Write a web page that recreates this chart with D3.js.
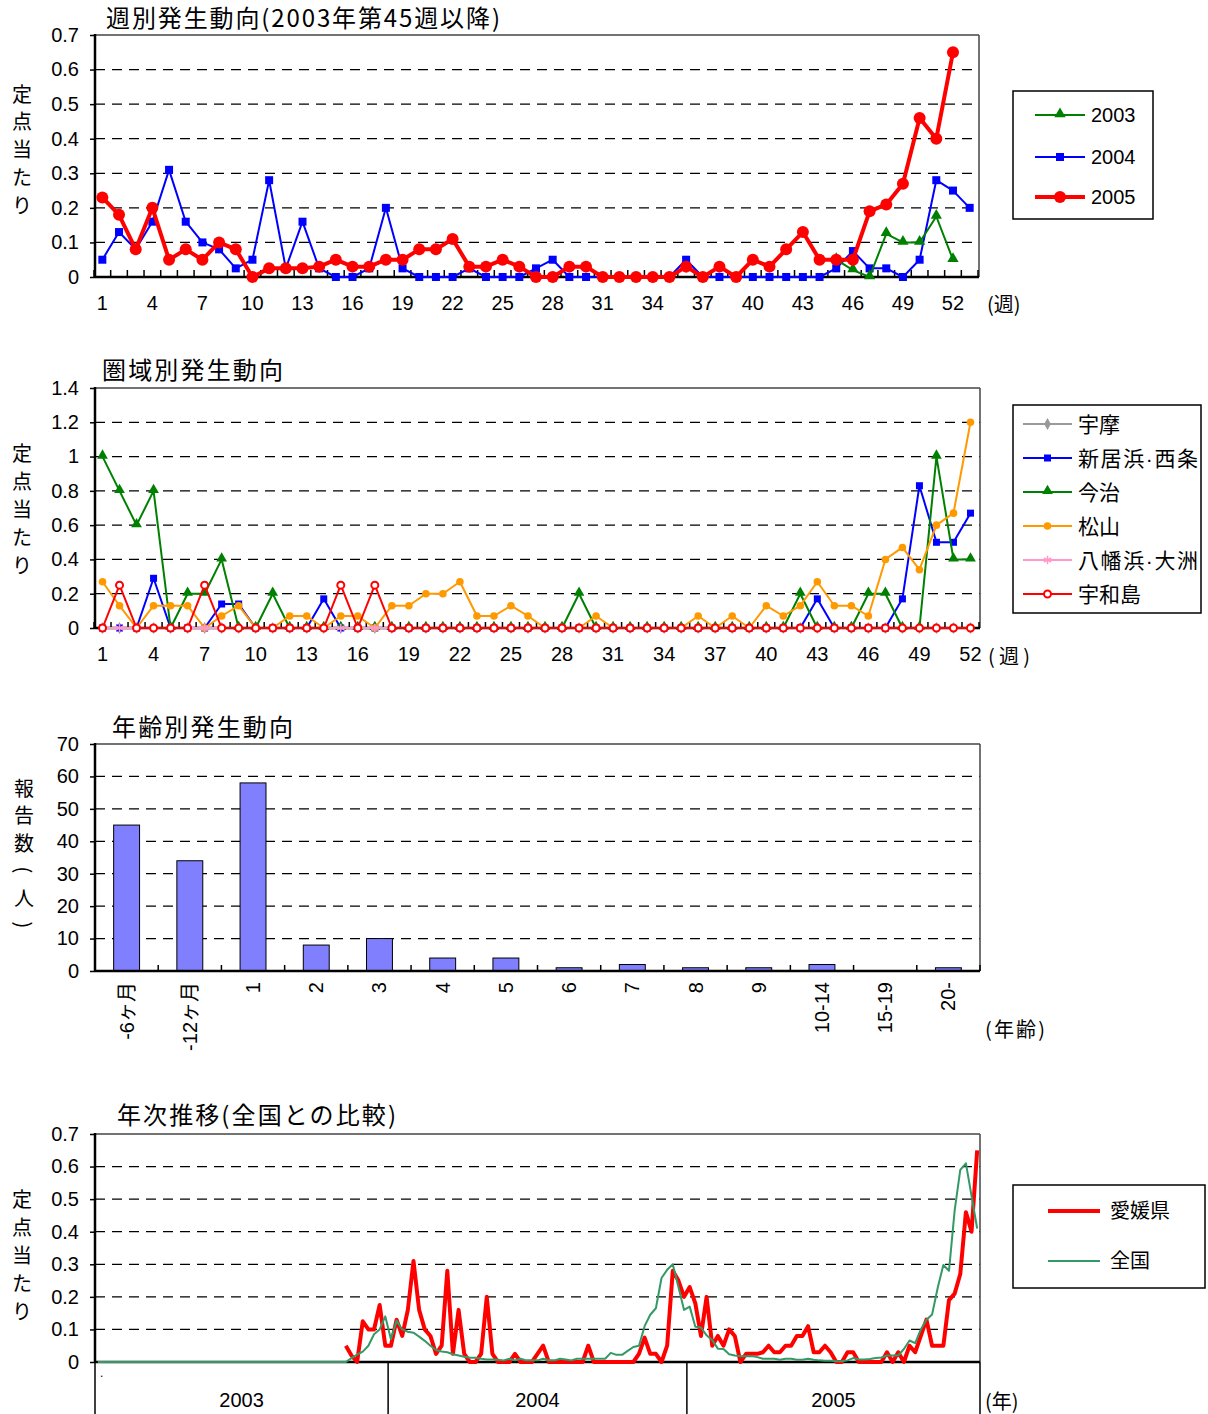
<!DOCTYPE html>
<html><head><meta charset="utf-8">
<script src="https://cdn.jsdelivr.net/npm/d3@7"></script>
<style>body{margin:0;background:#fff}</style>
</head><body>
<svg id="c" width="1208" height="1414" xmlns="http://www.w3.org/2000/svg"></svg>
<script>
// ---------------- DATA ----------------
// Panel 1: weekly trend (定点当たり)
const weekLabels = [1,4,7,10,13,16,19,22,25,28,31,34,37,40,43,46,49,52];
const weeks2003 = [45,46,47,48,49,50,51,52];
const values2003 = [0.05,0.02,0,0.125,0.10,0.10,0.175,0.05];
const values2004 = [0.05,0.13,0.08,0.16,0.31,0.16,0.10,0.08,0.025,0.05,
  0.28,0.025,0.16,0.025,0,0,0.025,0.20,0.025,0,
  0,0,0.025,0,0,0,0.025,0.05,0,0,
  0,0,0,0,0,0.05,0,0,0,0,
  0,0,0,0,0.025,0.075,0.025,0.025,0,0.05,
  0.28,0.25,0.20];
const values2005 = [0.23,0.18,0.08,0.20,0.05,0.08,0.05,0.10,0.08,0,
  0.025,0.025,0.025,0.03,0.05,0.03,0.03,0.05,0.05,0.08,
  0.08,0.11,0.03,0.03,0.05,0.03,0,0,0.03,0.03,
  0,0,0,0,0,0.03,0,0.03,0,0.05,
  0.03,0.08,0.13,0.05,0.05,0.05,0.19,0.21,0.27,0.46,0.40,0.65];

// Panel 2: by area (weeks 1-52)
const areaNames = ["宇摩","新居浜·西条","今治","松山","八幡浜·大洲","宇和島"];
const areaUma     = [0,0,0,0,0,0,0,0,0,0, 0,0,0,0,0,0,0,0,0,0, 0,0,0,0,0,0,0,0,0,0, 0,0,0,0,0,0,0,0,0,0, 0,0,0,0,0,0,0,0,0,0, 0,0];
const areaNiihama = [0,0,0,0.29,0,0,0,0.14,0.14,0, 0,0,0,0.17,0,0,0,0,0,0, 0,0,0,0,0,0,0,0,0,0, 0,0,0,0,0,0,0,0,0,0, 0,0,0.17,0,0,0,0,0.17,0.83,0.5, 0.5,0.67];
const areaImabari = [1.0,0.8,0.6,0.8,0,0.2,0.2,0.4,0,0, 0.2,0,0,0,0,0,0,0,0,0, 0,0,0,0,0,0,0,0,0.2,0, 0,0,0,0,0,0,0,0,0,0, 0,0.2,0,0,0,0.2,0.2,0,0,1.0, 0.4,0.4];
const areaMatsuyama = [0.27,0.13,0,0.13,0.13,0.13,0,0.07,0.13,0, 0,0.07,0.07,0,0.07,0.07,0,0.13,0.13,0.2, 0.2,0.27,0.07,0.07,0.13,0.07,0,0,0,0.07, 0,0,0,0,0,0.07,0,0.07,0,0.13, 0.07,0.13,0.27,0.13,0.13,0.07,0.4,0.47,0.34,0.6, 0.67,1.2];
const areaYawatahama = [0,0,0,0,0,0,0,0,0,0, 0,0,0,0,0,0,0,0,0,0, 0,0,0,0,0,0,0,0,0,0, 0,0,0,0,0,0,0,0,0,0, 0,0,0,0,0,0,0,0,0,0, 0,0];
const areaUwajima = [0,0.25,0,0,0,0,0.25,0,0,0, 0,0,0,0,0.25,0,0.25,0,0,0, 0,0,0,0,0,0,0,0,0,0, 0,0,0,0,0,0,0,0,0,0, 0,0,0,0,0,0,0,0,0,0, 0,0];

// Panel 3: by age (報告数)
const ageCats = ["-6ヶ月","-12ヶ月","1","2","3","4","5","6","7","8","9","10-14","15-19","20-"];
const ageCounts = [45,34,58,8,10,4,4,1,2,1,1,2,0,1];

// Panel 4: yearly comparison
const years = ["2003","2004","2005"];
const weeksPerYear = [52,53,52];
const national2003 = [0,0,0,0,0,0,0,0,0,0, 0,0,0,0,0,0,0,0,0,0, 0,0,0,0,0,0,0,0,0,0, 0,0,0,0,0,0,0,0,0,0, 0,0,0,0,
  0,0.012,0.023,0.032,0.05,0.085,0.10,0.14];
const national2004 = [0.07,0.127,0.10,0.093,0.09,0.078,0.065,0.05,0.037,0.032,
  0.03,0.024,0.02,0.016,0.013,0.013,0.01,0.008,0.008,0.007,
  0.005,0.01,0.005,0.01,0.005,0.005,0.005,0.01,0.005,0.005,
  0.01,0.008,0.005,0.01,0.01,0.01,0.01,0.01,0.01,0.028,
  0.022,0.022,0.034,0.046,0.05,0.11,0.145,0.165,0.258,0.283,
  0.30,0.23,0.16];
const national2005 = [0.17,0.108,0.106,0.082,0.067,0.041,0.04,0.024,0.02,0.018,
  0.018,0.018,0.015,0.01,0.01,0.01,0.007,0.01,0.01,0.007,
  0.007,0.01,0.007,0.005,0.004,0.004,0.002,0.002,0.005,0.012,
  0.008,0.008,0.009,0.012,0.014,0.02,0.02,0.02,0.04,0.066,
  0.058,0.10,0.13,0.146,0.228,0.298,0.28,0.465,0.59,0.61,0.51,0.41];

// ---------------- DRAWING ----------------
const NUM = "'Liberation Sans', Arial, 'Noto Sans CJK JP', sans-serif";
const JP = "'Noto Sans CJK JP', 'Liberation Sans', sans-serif";
const svg = d3.select("#c");

function gridLines(ys, vals, x0, x1) {
  svg.append("g").selectAll("line").data(vals).join("line")
    .attr("x1", x0).attr("x2", x1)
    .attr("y1", d => ys(d)).attr("y2", d => ys(d))
    .attr("stroke", "#000").attr("stroke-width", 1.2).attr("stroke-dasharray", "10,7");
}
function frame(x0, x1, y0, y1) {
  const g = svg.append("g");
  g.append("line").attr("x1", x0).attr("x2", x1).attr("y1", y0).attr("y2", y0).attr("stroke", "#444").attr("stroke-width", 1.5);
  g.append("line").attr("x1", x1).attr("x2", x1).attr("y1", y0).attr("y2", y1).attr("stroke", "#444").attr("stroke-width", 1.5);
  g.append("line").attr("x1", x0).attr("x2", x0).attr("y1", y0 - 1).attr("y2", y1 + 1).attr("stroke", "#000").attr("stroke-width", 2.5);
  g.append("line").attr("x1", x0).attr("x2", x1).attr("y1", y1).attr("y2", y1).attr("stroke", "#000").attr("stroke-width", 2.5);
}
function yAxis(ys, x0, vals) {
  const g = svg.append("g").attr("transform", `translate(${x0},0)`)
    .call(d3.axisLeft(ys).tickValues(vals).tickSize(5).tickPadding(11).tickFormat(d => String(d)));
  g.select(".domain").remove();
  g.selectAll(".tick line").attr("stroke", "#000").attr("stroke-width", 1.5);
  g.selectAll("text").attr("font-size", 20).attr("font-family", NUM).attr("fill", "#000");
}
function xAxisBand(xs, yb, vals, pad) {
  const g = svg.append("g").attr("transform", `translate(0,${yb})`)
    .call(d3.axisBottom(xs).tickValues(vals).tickSize(0).tickPadding(pad));
  g.select(".domain").remove();
  g.selectAll("text").attr("font-size", 20).attr("font-family", NUM).attr("fill", "#000");
}
function innerTicks(xs, yb, len) {
  const pos = xs.domain().map(d => xs(d)).concat([xs.range()[1]]);
  svg.append("g").selectAll("line").data(pos).join("line")
    .attr("x1", d => d).attr("x2", d => d).attr("y1", yb).attr("y2", yb - len)
    .attr("stroke", "#000").attr("stroke-width", 1.5);
}
function vLabel(chars, x, yStart, step, rotIdx) {
  const g = svg.append("g");
  chars.forEach((c, i) => {
    const t = g.append("text").attr("x", x).attr("y", yStart + i * step)
      .attr("text-anchor", "middle").attr("dominant-baseline", "central")
      .attr("font-family", JP).attr("font-size", 20).attr("fill", "#000").text(c);
    if (rotIdx && rotIdx.includes(i)) t.attr("transform", `rotate(90,${x},${yStart + i * step})`);
  });
}
function title(txt, x, y, len) {
  svg.append("text").attr("x", x).attr("y", y).attr("font-family", JP).attr("font-size", 24)
    .attr("fill", "#000").attr("textLength", len).attr("lengthAdjust", "spacing").text(txt);
}
function markers(g, data, kind, color, size, xf, yf) {
  const pts = data.filter(d => d.v != null);
  if (kind === "circle") {
    g.selectAll(null).data(pts).join("circle").attr("cx", xf).attr("cy", yf).attr("r", size).attr("fill", color);
  } else if (kind === "open") {
    g.selectAll(null).data(pts).join("circle").attr("cx", xf).attr("cy", yf).attr("r", size)
      .attr("fill", "#fff").attr("stroke", color).attr("stroke-width", 2);
  } else if (kind === "square") {
    g.selectAll(null).data(pts).join("rect").attr("x", d => xf(d) - size / 2).attr("y", d => yf(d) - size / 2)
      .attr("width", size).attr("height", size).attr("fill", color);
  } else {
    const type = kind === "triangle" ? d3.symbolTriangle : kind === "diamond" ? d3.symbolDiamond : d3.symbolAsterisk;
    const p = d3.symbol().type(type).size(size)();
    const s = g.selectAll(null).data(pts).join("path").attr("d", p)
      .attr("transform", d => `translate(${xf(d)},${yf(d) + (kind === "triangle" ? -1 : 0)})`);
    if (kind === "asterisk") s.attr("fill", "none").attr("stroke", color).attr("stroke-width", 1.5);
    else s.attr("fill", color);
  }
}
function series(xf, yf, data, color, lw, kind, size) {
  const g = svg.append("g");
  g.append("path").datum(data)
    .attr("d", d3.line().defined(d => d.v != null).x(xf).y(yf))
    .attr("fill", "none").attr("stroke", color).attr("stroke-width", lw).attr("stroke-linejoin", "round");
  if (kind) markers(g, data, kind, color, size, xf, yf);
}
function legendBox(x0, y0, x1, y1) {
  svg.append("rect").attr("x", x0).attr("y", y0).attr("width", x1 - x0).attr("height", y1 - y0)
    .attr("fill", "#fff").attr("stroke", "#000").attr("stroke-width", 1.5);
}
function legendItem(lx0, lx1, y, tx, label, color, lw, kind, size, fs, tlen) {
  const g = svg.append("g");
  g.append("line").attr("x1", lx0).attr("x2", lx1).attr("y1", y).attr("y2", y).attr("stroke", color).attr("stroke-width", lw);
  if (kind) markers(g, [{v: 0}], kind, color, size, () => (lx0 + lx1) / 2, () => y);
  const t = g.append("text").attr("x", tx).attr("y", y).attr("dominant-baseline", "central")
    .attr("font-family", NUM).attr("font-size", fs || 20).attr("fill", "#000").text(label);
  if (tlen) t.attr("textLength", tlen).attr("lengthAdjust", "spacing");
}

// ===== Panel 1 =====
{
  const weeks = d3.range(1, 54);
  const xs = d3.scaleBand().domain(weeks).range([94, 978]);
  const cx = d => xs(d.w) + xs.bandwidth() / 2;
  const ys = d3.scaleLinear().domain([0, 0.7]).range([277, 35]);
  const cy = d => ys(d.v);
  gridLines(ys, [0.1, 0.2, 0.3, 0.4, 0.5, 0.6], 95, 979);
  frame(95, 979, 35, 277);
  innerTicks(xs, 277, 7);
  yAxis(ys, 95, [0, 0.1, 0.2, 0.3, 0.4, 0.5, 0.6, 0.7]);
  xAxisBand(xs, 277, weekLabels, 19);
  svg.append("text").attr("x", 987).attr("y", 303).attr("dominant-baseline", "central")
    .attr("font-family", JP).attr("font-size", 20).text("(週)");
  title("週別発生動向(2003年第45週以降)", 106, 27, 394);
  vLabel(["定", "点", "当", "た", "り"], 22, 93, 27.8);

  const d2003 = weeks2003.map((w, i) => ({w, v: values2003[i]}));
  const d2004 = values2004.map((v, i) => ({w: i + 1, v}));
  const d2005 = values2005.map((v, i) => ({w: i + 1, v}));
  series(cx, cy, d2004, "#0000ff", 2, "square", 8);
  series(cx, cy, d2003, "#008000", 2, "triangle", 55);
  series(cx, cy, d2005, "#ff0000", 4, "circle", 6);

  legendBox(1013, 91, 1153, 219);
  legendItem(1035, 1085, 115, 1091, "2003", "#008000", 2, "triangle", 55);
  legendItem(1035, 1085, 157, 1091, "2004", "#0000ff", 2, "square", 8);
  legendItem(1035, 1085, 197, 1091, "2005", "#ff0000", 4, "circle", 6);
}

// ===== Panel 2 =====
{
  const weeks = d3.range(1, 53);
  const xs = d3.scaleBand().domain(weeks).range([94, 979]);
  const cx = d => xs(d.w) + xs.bandwidth() / 2;
  const ys = d3.scaleLinear().domain([0, 1.4]).range([628, 388]);
  const cy = d => ys(d.v);
  gridLines(ys, [0.2, 0.4, 0.6, 0.8, 1, 1.2], 95, 980);
  frame(95, 980, 388, 628);
  innerTicks(xs, 628, 6);
  yAxis(ys, 95, [0, 0.2, 0.4, 0.6, 0.8, 1, 1.2, 1.4]);
  xAxisBand(xs, 628, weekLabels, 19);
  svg.append("text").attr("x", 988).attr("y", 655).attr("dominant-baseline", "central")
    .attr("font-family", JP).attr("font-size", 20).attr("textLength", 42).attr("lengthAdjust", "spacing").text("(週)");
  title("圏域別発生動向", 102, 379, 181);
  vLabel(["定", "点", "当", "た", "り"], 22, 452, 28.2);

  const mk = arr => arr.map((v, i) => ({w: i + 1, v}));
  const styles = [
    {data: areaUma, color: "#999999", kind: "diamond", size: 40},
    {data: areaNiihama, color: "#0000ff", kind: "square", size: 7},
    {data: areaImabari, color: "#008000", kind: "triangle", size: 50},
    {data: areaMatsuyama, color: "#ff9900", kind: "circle", size: 3.8},
    {data: areaYawatahama, color: "#ff99cc", kind: "asterisk", size: 50},
    {data: areaUwajima, color: "#ff0000", kind: "open", size: 3.5}
  ];
  styles.forEach(s => series(cx, cy, mk(s.data), s.color, 2, s.kind, s.size));

  legendBox(1013, 405, 1201, 613);
  const ly = [424, 458, 492, 526, 560, 594];
  styles.forEach((s, i) => legendItem(1023, 1072, ly[i], 1078, areaNames[i], s.color, 2, s.kind, s.size, 21,
    areaNames[i].length > 4 ? 120 : null));
}

// ===== Panel 3 =====
{
  const xs = d3.scaleBand().domain(ageCats).range([95, 980]);
  const ys = d3.scaleLinear().domain([0, 70]).range([971, 744]);
  gridLines(ys, [10, 20, 30, 40, 50, 60], 95, 980);
  const bw = xs.bandwidth() * 0.41;
  svg.append("g").selectAll("rect").data(ageCats).join("rect")
    .attr("x", d => xs(d) + xs.bandwidth() / 2 - bw / 2)
    .attr("y", (d, i) => ys(ageCounts[i]))
    .attr("width", bw)
    .attr("height", (d, i) => ys(0) - ys(ageCounts[i]))
    .attr("fill", "#8080ff").attr("stroke", "#000").attr("stroke-width", 1);
  frame(95, 980, 744, 971);
  innerTicks(xs, 971, 6);
  yAxis(ys, 95, [0, 10, 20, 30, 40, 50, 60, 70]);
  svg.append("g").selectAll("text").data(ageCats).join("text")
    .attr("transform", d => `translate(${xs(d) + xs.bandwidth() / 2},982) rotate(-90)`)
    .attr("text-anchor", "end").attr("dominant-baseline", "central")
    .attr("font-family", NUM).attr("font-size", 20).attr("fill", "#000").text(d => d);
  svg.append("text").attr("x", 985).attr("y", 1028).attr("dominant-baseline", "central")
    .attr("font-family", JP).attr("font-size", 20).attr("textLength", 60).attr("lengthAdjust", "spacing").text("(年齢)");
  title("年齢別発生動向", 112, 736, 181);
  vLabel(["報", "告", "数", "(", "人", ")"], 24, 787, 27.6, [3, 5]);
}

// ===== Panel 4 =====
{
  const idx = [];
  years.forEach((y, yi) => d3.range(1, weeksPerYear[yi] + 1).forEach(w => idx.push(y + "-" + w)));
  const xs = d3.scaleBand().domain(idx).range([95, 980]);
  const cx = d => xs(d.k) + xs.bandwidth() / 2;
  const ys = d3.scaleLinear().domain([0, 0.7]).range([1362, 1134]);
  const cy = d => ys(d.v);
  gridLines(ys, [0.1, 0.2, 0.3, 0.4, 0.5, 0.6], 95, 980);
  frame(95, 980, 1134, 1362);
  yAxis(ys, 95, [0, 0.1, 0.2, 0.3, 0.4, 0.5, 0.6, 0.7]);

  // year separators
  const bounds = years.map(y => xs(y + "-1")).concat([980]);
  svg.append("g").selectAll("line").data(bounds).join("line")
    .attr("x1", d => d).attr("x2", d => d).attr("y1", 1362).attr("y2", 1414)
    .attr("stroke", "#000").attr("stroke-width", 1.5);
  svg.append("g").selectAll("text").data(years).join("text")
    .attr("x", (y, i) => (bounds[i] + bounds[i + 1]) / 2).attr("y", 1400)
    .attr("text-anchor", "middle").attr("dominant-baseline", "central")
    .attr("font-family", NUM).attr("font-size", 20).attr("fill", "#000").text(d => d);
  svg.append("text").attr("x", 985).attr("y", 1400).attr("dominant-baseline", "central")
    .attr("font-family", JP).attr("font-size", 20).text("(年)");
  svg.append("text").attr("x", 100).attr("y", 1377).attr("font-family", NUM).attr("font-size", 12).text(".");

  const ehime = weeks2003.map((w, i) => ({k: "2003-" + w, v: values2003[i]}))
    .concat(values2004.map((v, i) => ({k: "2004-" + (i + 1), v})))
    .concat(values2005.map((v, i) => ({k: "2005-" + (i + 1), v})));
  const nat = national2003.map((v, i) => ({k: "2003-" + (i + 1), v}))
    .concat(national2004.map((v, i) => ({k: "2004-" + (i + 1), v})))
    .concat(national2005.map((v, i) => ({k: "2005-" + (i + 1), v})));
  series(cx, cy, ehime, "#ff0000", 4, null);
  series(cx, cy, nat, "#339966", 2, null);

  title("年次推移(全国との比較)", 117, 1124, 279);
  vLabel(["定", "点", "当", "た", "り"], 22, 1198, 28);

  legendBox(1013, 1185, 1205, 1288);
  legendItem(1048, 1100, 1211, 1110, "愛媛県", "#ff0000", 4, null, 21);
  legendItem(1048, 1100, 1261, 1110, "全国", "#339966", 2, null, 21);
}
</script>
</body></html>
